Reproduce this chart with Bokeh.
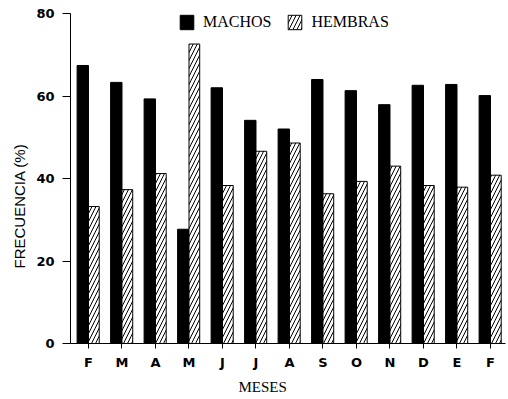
from bokeh.plotting import figure
from bokeh.models import Range1d, FixedTicker, Legend, LegendItem, Title, ColumnDataSource
from bokeh.transform import dodge
from bokeh.embed import file_html
from bokeh.resources import INLINE

meses = ["F", "M", "A", "M", "J", "J", "A", "S", "O", "N", "D", "E", "F"]
machos = [67.4, 63.3, 59.3, 27.7, 62.0, 54.1, 52.0, 64.0, 61.3, 57.9, 62.6, 62.8, 60.1]
hembras = [33.2, 37.3, 41.2, 72.6, 38.3, 46.6, 48.6, 36.3, 39.3, 43.0, 38.3, 37.9, 40.8]
y_ticks = [0, 20, 40, 60, 80]

idx = list(range(len(meses)))
src = ColumnDataSource(dict(x=idx, machos=machos, hembras=hembras))

p = figure(width=508, height=399, x_range=Range1d(-0.537, 12.448), y_range=Range1d(0, 80),
           output_backend="svg", toolbar_location=None,
           min_border_left=70, min_border_right=3, min_border_top=13, min_border_bottom=56)
p.outline_line_color = None
p.xgrid.visible = False
p.ygrid.visible = False

r1 = p.vbar(x=dodge("x", -0.17, range=p.x_range), top="machos", width=0.34, source=src,
            fill_color="black", line_color="black", line_width=1)
r2 = p.vbar(x=dodge("x", 0.16, range=p.x_range), top="hembras", width=0.32, source=src,
            fill_color="white", line_color="black", line_width=1,
            hatch_pattern="right_diagonal_line", hatch_color="black", hatch_scale=8, hatch_weight=1)

p.xaxis.ticker = FixedTicker(ticks=idx)
p.xaxis.major_label_overrides = {i: m for i, m in enumerate(meses)}
p.yaxis.ticker = FixedTicker(ticks=y_ticks)
for ax in (p.xaxis, p.yaxis):
    ax.axis_line_color = "black"
    ax.major_tick_line_color = "black"
    ax.minor_tick_line_color = None
    ax.major_tick_in = 0
    ax.major_label_text_font = "DejaVu Sans"
    ax.major_label_text_font_style = "bold"
    ax.major_label_text_font_size = "13px"
    ax.major_label_text_color = "black"
p.yaxis.major_tick_out = 8
p.yaxis.major_label_standoff = 8
p.xaxis.major_tick_out = 5
p.xaxis.major_label_standoff = 6

legend = Legend(items=[LegendItem(label="MACHOS", renderers=[r1]),
                       LegendItem(label="HEMBRAS", renderers=[r2])],
                orientation="horizontal", location=(108, 312),
                glyph_width=17, glyph_height=18, label_standoff=8, spacing=15,
                padding=0, margin=0, border_line_color=None, background_fill_alpha=0,
                label_text_font="Liberation Serif", label_text_font_size="16px",
                label_height=18, label_text_color="black")
p.add_layout(legend)

ylab = Title(text="FRECUENCIA (%)", align="left", offset=75, standoff=12, text_font="Liberation Sans",
             text_font_size="15px", text_font_style="normal", text_color="black")
p.add_layout(ylab, "left")
xlab = Title(text="MESES", align="left", offset=168, standoff=9, text_font="Liberation Serif",
             text_font_size="15px", text_font_style="normal", text_color="black")
p.add_layout(xlab, "below")

open("out.html", "w").write(file_html(p, INLINE))
